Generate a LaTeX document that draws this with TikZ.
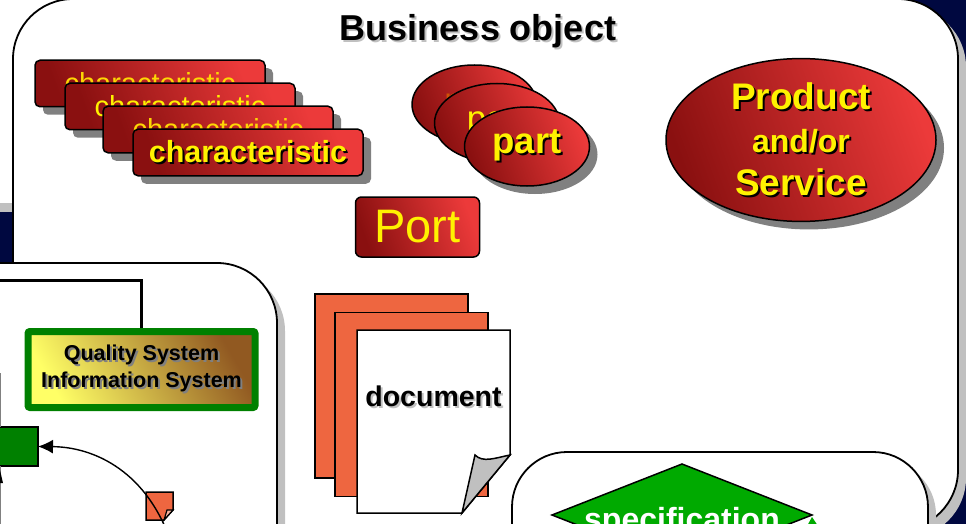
\documentclass[tikz,border=0pt]{standalone}
\usepackage{fontspec}
\setmainfont{Liberation Sans}
\usetikzlibrary{arrows.meta,positioning,shapes.geometric,shadows}
\definecolor{navybg}{HTML}{000840}
\definecolor{shadelight}{HTML}{C0C0C0}
\definecolor{shadedark}{HTML}{808080}
\definecolor{redA}{HTML}{8A1010}
\definecolor{redB}{HTML}{EC3A3A}
\definecolor{docorange}{HTML}{EE6640}
\definecolor{qualgreen}{HTML}{008000}
\definecolor{specgreen}{HTML}{00AA00}
\pgfdeclarelayer{lines}
\pgfsetlayers{lines,main}
\newcommand{\shtxt}[2]{\leavevmode\rlap{\kern2pt\raisebox{-2pt}{\textcolor{#1}{#2}}}#2}

\begin{document}
\begin{tikzpicture}[x=1pt,y=-1pt,semithick,outer sep=0pt,inner sep=0pt,
                    node distance=30pt]

  \tikzstyle{hardshadow}=[drop shadow={shadow xshift=8pt,shadow yshift=-8pt,fill=#1,opacity=1}]
  \tikzstyle{panel}=[rectangle,draw,line width=1.8pt,fill=white,rounded corners=60pt,hardshadow=shadelight]
  \tikzstyle{redfill}=[left color=redA,right color=redB,shading angle=110]
  \tikzstyle{charbox}=[rectangle,draw,line width=1.5pt,rounded corners=5pt,redfill,hardshadow=shadedark,
                       minimum width=230pt,minimum height=46.5pt,text=yellow,font=\fontsize{29}{33}\selectfont]
  \tikzstyle{partell}=[ellipse,draw,line width=1.5pt,redfill,minimum width=125pt,minimum height=79pt,
                       text=yellow,font=\fontsize{35}{40}\selectfont]
  \tikzstyle{sheet}=[rectangle,draw,line width=1.5pt,fill=docorange,minimum width=153pt,minimum height=184pt]
  \tikzstyle{conn}=[draw,line width=1.4pt]

  \useasboundingbox (0,0) rectangle (966,524);

  % backdrop
  \fill[navybg] (880,0) rectangle (966,524);
  \fill[navybg] (0,212) rectangle (20,263);
  \fill[shadelight] (0,203) rectangle (20,212);

  \node[panel,minimum width=945pt,minimum height=531pt] (bizpanel) at (485.5,264.5) {};
  \node[panel,rounded corners=55pt,minimum width=416pt,minimum height=300pt] (specpanel) at (720,602) {};
  \node[panel,minimum width=420pt,minimum height=400pt] (qualpanel) at (67,463) {};

  \node[font=\bfseries\fontsize{36}{40}\selectfont] (title) at (478,32) {\shtxt{shadelight}{Business object}};

  % characteristics
  \node[charbox,text=yellow!75!orange] (charA) at (150,83.5) {characteristic};
  \node[charbox] (charB) [right of=charA,yshift=-23pt] {characteristic};
  \node[charbox,text=yellow!75!orange] (charC) [right of=charB,node distance=38pt,yshift=-23pt] {characteristic};
  \node[charbox,font=\bfseries\fontsize{30.5}{34}\selectfont] (charD) [right of=charC,yshift=-23pt] {\shtxt{black}{characteristic}};

  % parts
  \node[partell,text=orange!60!redA] (partA) at (474.5,104.5) {part};
  \node[partell] (partB) [right of=partA,node distance=22.5pt,yshift=-18.5pt] {part};
  \node[partell,font=\bfseries\fontsize{36.5}{40}\selectfont,hardshadow=shadedark] (partC) [right of=partB,yshift=-23.5pt] {\shtxt{black}{part}};

  \node[ellipse,draw,line width=1.5pt,redfill,hardshadow=shadedark,minimum width=270pt,minimum height=156pt,
        text=yellow,align=center,font=\bfseries\fontsize{32}{43}\selectfont] (prodserv) at (801,140)
        {{\fontsize{37}{43}\selectfont\shtxt{black}{Product}}\\
         \shtxt{black}{and/or}\\
         {\fontsize{37}{43}\selectfont\shtxt{black}{Service}}};

  \node[rectangle,draw,line width=1.5pt,rounded corners=6pt,redfill,minimum width=124pt,minimum height=60pt,
        text=yellow,font=\fontsize{47}{52}\selectfont] (portbox) at (417.5,227) {Port};

  \begin{pgfonlayer}{lines}
  \path[conn]
  (charA.east) edge (partA.west)
  (charB.east) edge (partA.west)
  (charC.east) edge (partA.west)
  (charD.east) edge (partA.west)

  (partA.8)    edge (prodserv.north west)
  (partB.east) edge (prodserv.north west)
  (partC.east) edge (prodserv.north west)

  (portbox.north) edge (partA.250)
  (portbox.east)  edge (partC.south)
  ;
  \end{pgfonlayer}

  % quality system
  \coordinate (qualend) at (-5,280);
  \draw[line width=3pt] (141.5,332) -- (141.5,280) -- (qualend);
  \node[rectangle,draw=qualgreen,line width=7pt,rounded corners=2pt,
        left color=yellow!60!white,right color=brown!75!orange!70!black,shading angle=120,
        minimum width=227pt,minimum height=76pt,align=center,
        font=\bfseries\fontsize{21.5}{27}\selectfont] (qualbox) at (141.5,369.5)
        {\shtxt{shadedark}{Quality System}\\ \shtxt{shadedark}{Information System}};

  \node[rectangle,draw,line width=1.6pt,fill=qualgreen,minimum width=80pt,minimum height=39pt] (greenbox) at (-2,446.5) {};
  \draw[shadedark] (0.5,373) -- (0.5,427);
  \draw[shadedark] (0.5,466) -- (0.5,524);
  \fill (0,470) -- (3,483) -- (0,483) -- cycle;

  % small document
  \draw[line width=1.5pt,fill=docorange] (146,492) -- (173,492) -- (173,510) -- (164,520) -- (146,520) -- cycle;
  \draw[line width=1.2pt,fill=docorange!50!white] (173,510) -- (167,510) -- (164,520) -- cycle;
  \coordinate (curvestart) at (172,545);
  \draw[line width=1.4pt,-{Latex[length=15pt,width=14pt]}] (curvestart) .. controls (148,472) and (95,447) .. (greenbox.east);

  % documents
  \node[sheet] (docA) at (391.5,386) {};
  \node[sheet] (docB) [right of=docA,node distance=20pt,yshift=-18.5pt] {};
  \draw[line width=1.5pt,fill=white] (357,330) -- (510,330) -- (510,455) -- (462,513) -- (357,513) -- cycle;
  \draw[line width=1.5pt,fill=shadelight] (510,455) .. controls (495,458) and (483,463) .. (475,455) -- (462,513) -- cycle;
  \node[font=\bfseries\fontsize{28.5}{32}\selectfont] (doclabel) at (433.5,397) {\shtxt{shadelight}{document}};

  % specification
  \fill[specgreen] (812,517) -- (824,535) -- (802,535) -- cycle;
  \node[diamond,draw,line width=1.5pt,fill=specgreen,aspect=2.55,minimum width=260pt,minimum height=102pt,
        text=white,font=\bfseries\fontsize{32}{36}\selectfont] (specdiam) at (682,515) {};
  \node[text=white,font=\bfseries\fontsize{32}{36}\selectfont] (speclabel) at (682,522) {specification};

\end{tikzpicture}
\end{document}
